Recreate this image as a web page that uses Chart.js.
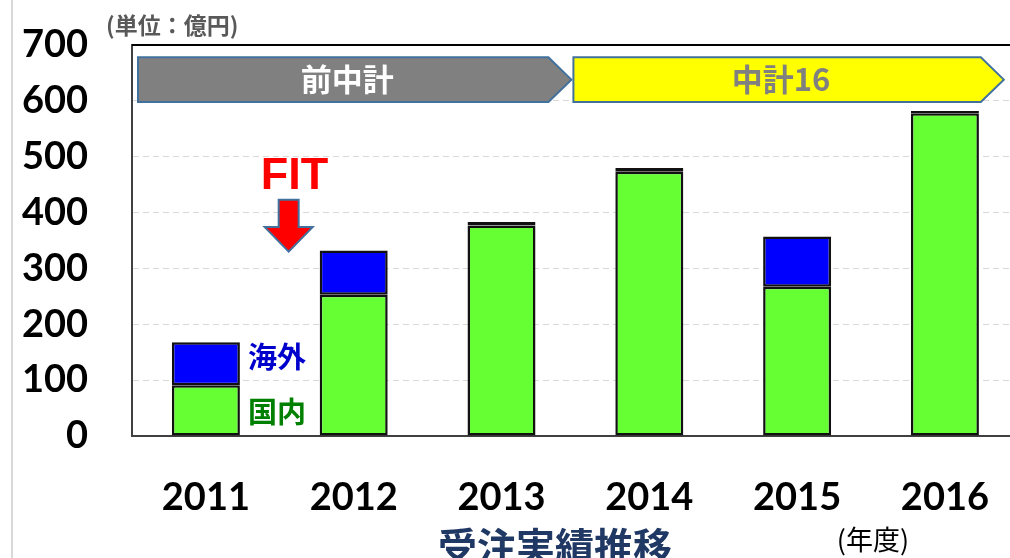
<!DOCTYPE html>
<html>
<head>
<meta charset="utf-8">
<script src="https://cdn.jsdelivr.net/npm/chart.js@4/dist/chart.umd.min.js"></script>
<style>
    html, body { margin: 0; padding: 0; background: #fff; overflow: hidden; }
    #wrap { width: 1020px; height: 558px; }
</style>
</head>
<body>
<div id="wrap"><canvas id="grafico" width="1020" height="558"></canvas></div>
<script>
const anios = ["2011", "2012", "2013", "2014", "2015", "2016"];
const nacional = [91, 253, 377, 473, 267, 578];
const extranjero = [77, 79, 6, 7, 90, 4];
const ticksY = [0, 100, 200, 300, 400, 500, 600, 700];

const fuenteCJK = '"Noto Sans CJK JP", "Noto Sans", sans-serif';
const fuenteNum = 'Lato, "Open Sans", sans-serif';

// dibuja bandas, flecha FIT y textos sueltos
const anotaciones = {
    id: "anotaciones",
    beforeDraw(chart) {
        const ctx = chart.ctx;
        ctx.save();
        ctx.fillStyle = "#fff";
        ctx.fillRect(0, 0, chart.width, chart.height);
        ctx.strokeStyle = "#d9d9d9";
        ctx.lineWidth = 2;
        ctx.beginPath();
        ctx.moveTo(12, 0);
        ctx.lineTo(12, chart.height);
        ctx.stroke();
        ctx.restore();
    },
    afterDatasetsDraw(chart) {
        const ctx = chart.ctx;
        const x = chart.scales.x;
        const y = chart.scales.y;
        const area = chart.chartArea;

        ctx.save();
        // marco superior
        ctx.strokeStyle = "#000";
        ctx.lineWidth = 2;
        ctx.beginPath();
        ctx.moveTo(area.left, area.top);
        ctx.lineTo(area.right, area.top);
        ctx.stroke();

        const yTop = y.getPixelForValue(678);
        const yBot = y.getPixelForValue(598);
        const yMid = (yTop + yBot) / 2;

        function banda(x0, punta, relleno, texto, colorTexto) {
            const cuerpo = punta - 23;
            ctx.beginPath();
            ctx.moveTo(x0, yTop);
            ctx.lineTo(cuerpo, yTop);
            ctx.lineTo(punta, yMid);
            ctx.lineTo(cuerpo, yBot);
            ctx.lineTo(x0, yBot);
            ctx.closePath();
            ctx.fillStyle = relleno;
            ctx.fill();
            ctx.strokeStyle = "#41719C";
            ctx.lineWidth = 2;
            ctx.stroke();
            ctx.fillStyle = colorTexto;
            ctx.font = "bold 31px " + fuenteCJK;
            ctx.textAlign = "center";
            ctx.textBaseline = "middle";
            ctx.fillText(texto, (x0 + cuerpo) / 2 + 4, yMid);
        }

        const corte = x.getPixelForValue(2.5);
        banda(area.left + 6, corte - 4, "#808080", "前中計", "#fff");
        banda(corte - 2, area.right - 15, "#FFFF00", "中計16", "#808080");

        // FIT
        ctx.fillStyle = "#FF0000";
        ctx.font = "bold 45px " + '"Liberation Sans", Arial, sans-serif';
        ctx.textAlign = "center";
        ctx.textBaseline = "middle";
        ctx.fillText("FIT", x.getPixelForValue(0.6), y.getPixelForValue(464));

        const cx = x.getPixelForValue(0.56);
        const a0 = y.getPixelForValue(423);
        const a1 = y.getPixelForValue(374);
        const a2 = y.getPixelForValue(330);
        ctx.beginPath();
        ctx.moveTo(cx - 10, a0);
        ctx.lineTo(cx + 10, a0);
        ctx.lineTo(cx + 10, a1);
        ctx.lineTo(cx + 24, a1);
        ctx.lineTo(cx, a2);
        ctx.lineTo(cx - 24, a1);
        ctx.lineTo(cx - 10, a1);
        ctx.closePath();
        ctx.fillStyle = "#FF0000";
        ctx.fill();
        ctx.strokeStyle = "#41719C";
        ctx.lineWidth = 2;
        ctx.stroke();

        // leyenda junto a 2011
        const lx = x.getPixelForValue(0) + 42;
        ctx.textAlign = "left";
        ctx.font = "bold 29px " + fuenteCJK;
        ctx.fillStyle = "#0000CC";
        ctx.fillText("海外", lx, y.getPixelForValue(142));
        ctx.fillStyle = "#008000";
        ctx.fillText("国内", lx, y.getPixelForValue(43));

        // unidad
        ctx.fillStyle = "#595959";
        ctx.font = "bold 23px " + fuenteCJK;
        ctx.fillText("(単位：億円)", 106, 25);

        // titulo y año fiscal
        ctx.textAlign = "center";
        ctx.fillStyle = "#1F3864";
        ctx.font = "bold 39px " + fuenteCJK;
        ctx.fillText("受注実績推移", 555, 546);
        ctx.fillStyle = "#000";
        ctx.font = "27px " + fuenteCJK;
        ctx.fillText("(年度)", 873, 540);
        ctx.restore();
    }
};

new Chart(document.getElementById("grafico").getContext("2d"), {
    type: "bar",
    data: {
        labels: anios,
        datasets: [
            {
                label: "国内",
                data: nacional,
                backgroundColor: "#66FF33",
                borderColor: "#111",
                borderWidth: 2.5,
                borderSkipped: false
            },
            {
                label: "海外",
                data: extranjero,
                backgroundColor: "#0000FF",
                borderColor: "#111",
                borderWidth: 2.5,
                borderSkipped: false
            }
        ]
    },
    options: {
        responsive: false,
        animation: false,
        layout: { padding: { top: 45, left: 0, right: 0, bottom: 0 } },
        datasets: { bar: { barPercentage: 0.46, categoryPercentage: 1 } },
        plugins: {
            legend: { display: false },
            tooltip: { enabled: false }
        },
        scales: {
            x: {
                stacked: true,
                grid: { display: false },
                border: { display: true, color: "#404040", width: 2 },
                ticks: {
                    color: "#000",
                    padding: 31,
                    font: { family: fuenteNum, size: 38, weight: "bold" }
                },
                afterFit(s) { s.height = 122; }
            },
            y: {
                stacked: true,
                min: 0,
                max: 700,
                afterBuildTicks(s) { s.ticks = ticksY.map(v => ({ value: v })); },
                grid: {
                    drawTicks: false,
                    lineWidth: 1,
                    color: c => (c.tick && (c.tick.value === 0 || c.tick.value === 700)) ? "rgba(0,0,0,0)" : "#d9d9d9"
                },
                border: { display: true, color: "#404040", width: 2, dash: [6, 4] },
                ticks: {
                    color: "#000",
                    padding: 44,
                    font: { family: fuenteNum, size: 38, weight: "bold" }
                },
                afterFit(s) {
                    s.width = 132;
                    s.paddingTop = 0;
                    s.paddingBottom = 0;
                }
            }
        }
    },
    plugins: [anotaciones]
});
</script>
</body>
</html>
